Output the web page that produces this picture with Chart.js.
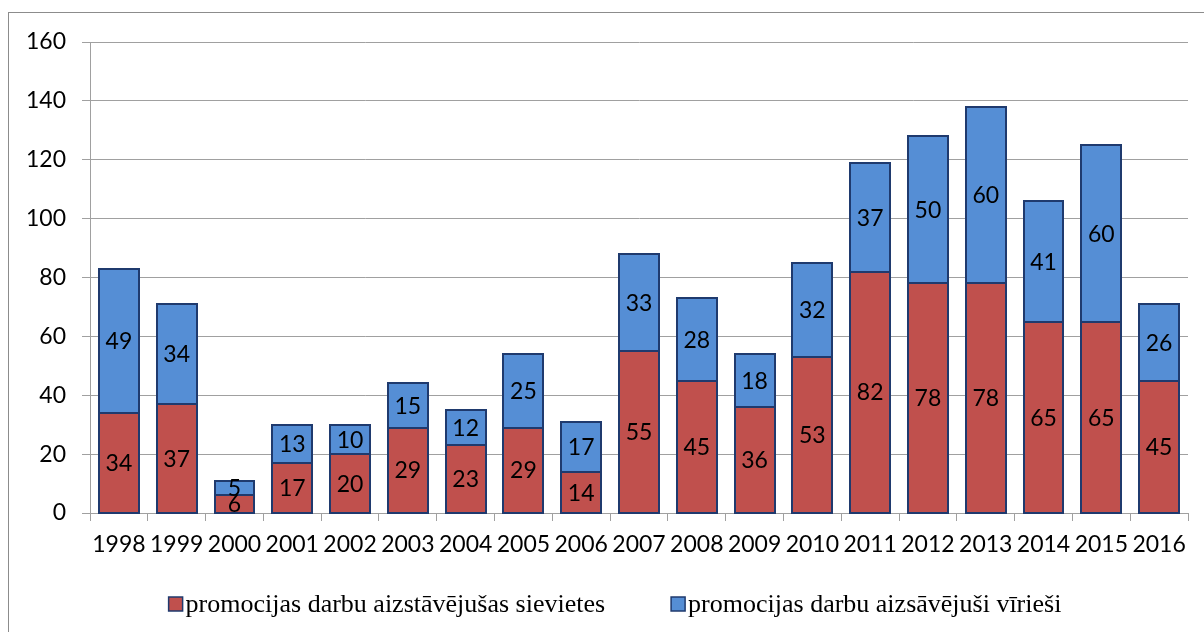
<!DOCTYPE html>
<html>
<head>
<meta charset="utf-8">
<script src="https://cdn.jsdelivr.net/npm/chart.js@4"></script>
<style>
html,body{margin:0;padding:0;background:#fff;}
#wrap{width:1204px;height:632px;position:relative;}
</style>
</head>
<body>
<div id="wrap"><canvas id="c" width="1204" height="632"></canvas></div>
<script>
const years = ['1998','1999','2000','2001','2002','2003','2004','2005','2006','2007','2008','2009','2010','2011','2012','2013','2014','2015','2016'];
const women = [34,37,6,17,20,29,23,29,14,55,45,36,53,82,78,78,65,65,45];
const men = [49,34,5,13,10,15,12,25,17,33,28,18,32,37,50,60,41,60,26];
const yTicks = [0,20,40,60,80,100,120,140,160];
const seriesNames = ['promocijas darbu aizstāvējušas sievietes','promocijas darbu aizsāvējuši vīrieši'];
const colors = ['#C0504D','#558ED5'];
const edge = '#1F3A6E';

const frame = {
  id:'frame',
  beforeDraw(chart){
    const ctx = chart.ctx;
    ctx.save();
    ctx.fillStyle='#fff';
    ctx.fillRect(0,0,chart.width,chart.height);
    ctx.strokeStyle='#8c8c8c';
    ctx.lineWidth=1;
    ctx.strokeRect(8.5,12.5,1400,800);
    ctx.restore();
  }
};

const labels = {
  id:'vlabels',
  afterDatasetsDraw(chart){
    const ctx = chart.ctx;
    ctx.save();
    // outlines of every segment, centred on the segment edges
    ctx.strokeStyle = edge;
    ctx.lineWidth = 2;
    chart.data.datasets.forEach((ds,i)=>{
      const meta = chart.getDatasetMeta(i);
      meta.data.forEach((bar)=>{
        const l = Math.round(bar.x - bar.width/2);
        const r = Math.round(bar.x + bar.width/2);
        const t = Math.round(bar.y);
        const b = Math.round(bar.base);
        ctx.strokeRect(l, t, r-l, b-t);
      });
    });
    ctx.font = '23px Lato';
    ctx.fillStyle = '#000';
    ctx.textAlign='center';
    ctx.textBaseline='middle';
    chart.data.datasets.forEach((ds,i)=>{
      const meta = chart.getDatasetMeta(i);
      meta.data.forEach((bar,j)=>{
        const yc = (bar.y + bar.base)/2;
        ctx.fillText(String(ds.data[j]), bar.x, yc+1);
      });
    });
    ctx.restore();
  }
};

const legendPlug = {
  id:'customLegend',
  afterDraw(chart){
    const ctx = chart.ctx;
    ctx.save();
    ctx.font = '26px "Liberation Serif"';
    ctx.textBaseline='middle';
    const box = 14, gap = 3, between = 66;
    const widths = seriesNames.map(n=>ctx.measureText(n).width);
    let total = widths.reduce((a,b)=>a+b,0) + 2*(box+gap) + between;
    let x = 615 - total/2;
    const y = 604;
    seriesNames.forEach((n,i)=>{
      ctx.fillStyle = colors[i];
      ctx.fillRect(x, y-box/2, box, box);
      ctx.strokeStyle = edge;
      ctx.lineWidth = 1.5;
      ctx.strokeRect(x, y-box/2, box, box);
      ctx.fillStyle = '#000';
      ctx.fillText(n, x+box+gap, y+1);
      x += box+gap+widths[i]+between;
    });
    ctx.restore();
  }
};

new Chart(document.getElementById('c'), {
  type:'bar',
  data:{
    labels: years,
    datasets:[
      {label:seriesNames[0], data:women, backgroundColor:colors[0], borderWidth:0, barPercentage:0.69, categoryPercentage:1},
      {label:seriesNames[1], data:men, backgroundColor:colors[1], borderWidth:0, barPercentage:0.69, categoryPercentage:1}
    ]
  },
  options:{
    responsive:false,
    animation:false,
    devicePixelRatio:1,
    layout:{padding:{left:0,right:16,top:42,bottom:72}},
    plugins:{legend:{display:false},tooltip:{enabled:false}},
    scales:{
      x:{
        stacked:true,
        grid:{display:true, drawOnChartArea:false, offset:true, color:'#a0a0a0', tickLength:8, tickColor:'#a0a0a0'},
        border:{color:'#a0a0a0'},
        ticks:{autoSkip:false, maxRotation:0, minRotation:0, padding:10, color:'#000', font:{family:'Lato', size:23}},
        afterFit(s){ s.height = 47; }
      },
      y:{
        stacked:true,
        min:0,max:160,
        afterBuildTicks(s){ s.ticks = yTicks.map(v=>({value:v})); },
        grid:{color:'#a0a0a0', tickLength:8, tickColor:'#a0a0a0'},
        border:{color:'#a0a0a0'},
        ticks:{padding:16, color:'#000', font:{family:'Lato', size:23}},
        afterFit(s){ s.width = 90; }
      }
    }
  },
  plugins:[frame, labels, legendPlug]
});
</script>
</body>
</html>
